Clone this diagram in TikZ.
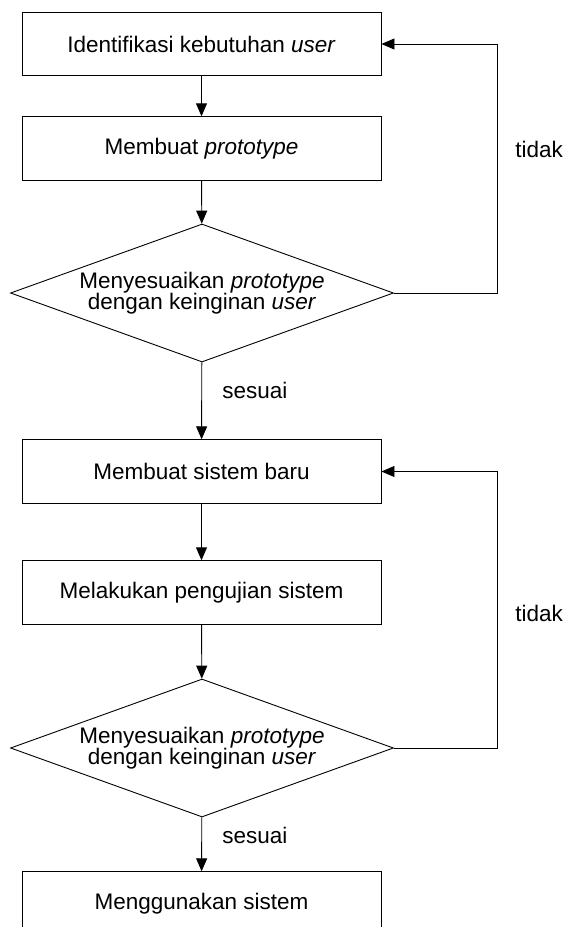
\documentclass[tikz,border=0pt]{standalone}
\usepackage{fontspec}
\setmainfont{Liberation Sans}
\usetikzlibrary{shapes.geometric,arrows.meta}

\begin{document}
\begin{tikzpicture}[x=1pt,y=-1pt,line width=0.9pt,
  font=\fontsize{22.5}{21.5}\selectfont,
  proses/.style={draw,minimum width=359pt,minimum height=63.5pt,inner sep=0pt},
  cek/.style={draw,diamond,aspect=2.78,minimum width=383pt,minimum height=138pt,inner sep=0pt,align=center},
  ket/.style={anchor=west,inner sep=0pt},
  panah/.style={-{Triangle[length=13pt,width=11pt]}}]
\useasboundingbox (0,0) rectangle (564,927);

\node[proses] (identifikasi) at (201.5,44) {Identifikasi kebutuhan \textit{user}};
\node[proses] (prototipe) at (201.5,148.5) {Membuat \textit{prototype}};
\node[cek] (cek1) at (202,293) {Menyesuaikan \textit{prototype}\\dengan keinginan \textit{user}};
\node[proses] (sistembaru) at (201.5,471.5) {Membuat sistem baru};
\node[proses] (pengujian) at (201.5,592.5) {Melakukan pengujian sistem};
\node[cek] (cek2) at (202,748) {Menyesuaikan \textit{prototype}\\dengan keinginan \textit{user}};
\node[proses] (menggunakan) at (201.5,903.5) {Menggunakan sistem};

\node[ket] (sesuai1) at (222,390) {sesuai};
\node[ket] (sesuai2) at (222,835) {sesuai};
\node[ket] (tidak1) at (515,149) {tidak};
\node[ket] (tidak2) at (515,613) {tidak};

\draw[panah] (identifikasi) -- (prototipe);
\draw[panah] (prototipe) -- (cek1);
\draw[panah] (cek1) -- (sistembaru);
\draw[panah] (sistembaru) -- (pengujian);
\draw[panah] (pengujian) -- (cek2);
\draw[panah] (cek2) -- (menggunakan);

\draw[panah] (cek1.east) -- ++(103,0) |- (identifikasi.east);
\draw[panah] (cek2.east) -- ++(103,0) |- (sistembaru.east);

\end{tikzpicture}
\end{document}
